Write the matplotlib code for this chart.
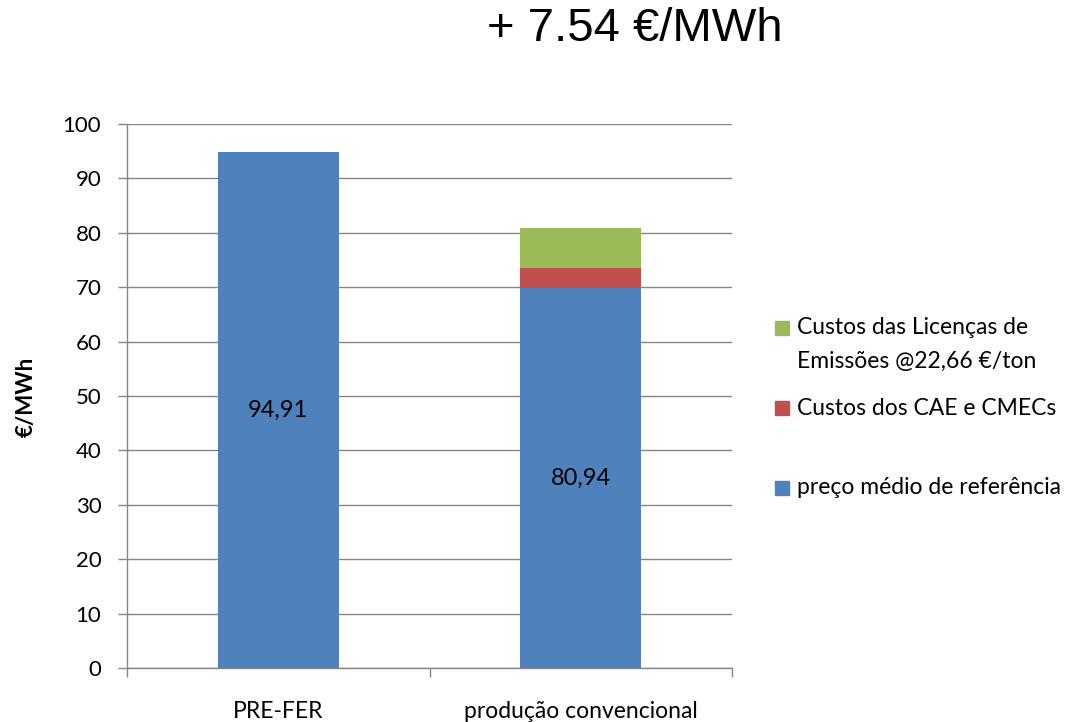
import matplotlib
matplotlib.use("Agg")
import matplotlib.pyplot as plt
from matplotlib.patches import Rectangle

categories = ["PRE-FER", "produção convencional"]
preco_medio = [94.91, 69.91]
custos_cae = [0.0, 3.60]
custos_licencas = [0.0, 7.43]
series_labels = ["preço médio de referência", "Custos dos CAE e CMECs",
                 "Custos das Licenças de\nEmissões @22,66 €/ton"]
colors = ["#4F81BD", "#C0504D", "#9BBB59"]
title_text = "+ 7.54 €/MWh"
y_label = "€/MWh"

plt.rcParams["font.family"] = ["Lato", "DejaVu Sans"]

W, H = 1083, 722
fig = plt.figure(figsize=(W / 100, H / 100), dpi=100)
ax = fig.add_axes([127 / W, 1 - 668 / H, (732 - 127) / W, (668 - 124) / H])

x = list(range(len(categories)))
w = 0.4
ax.bar(x, preco_medio, width=w, color=colors[0], zorder=3)
bottom2 = list(preco_medio)
ax.bar(x, custos_cae, width=w, bottom=bottom2, color=colors[1], zorder=3)
bottom3 = [a + b for a, b in zip(preco_medio, custos_cae)]
ax.bar(x, custos_licencas, width=w, bottom=bottom3, color=colors[2], zorder=3)

totals = [a + b + c for a, b, c in zip(preco_medio, custos_cae, custos_licencas)]
for xi, base, tot in zip(x, preco_medio, totals):
    ax.text(xi, base / 2, f"{tot:.2f}".replace(".", ","), ha="center", va="center",
            fontsize=17, color="black", zorder=4)

ax.set_xlim(-0.5, len(categories) - 0.5)
ax.set_ylim(0, 100)
ax.set_yticks(range(0, 101, 10))
ax.yaxis.grid(True, color="#868686", linewidth=1.0, zorder=0)
ax.set_axisbelow(True)

ax.set_xticks([-0.5, 0.5, 1.5])
ax.set_xticklabels([])
ax.set_xticks(x, minor=True)
ax.set_xticklabels(categories, minor=True, fontsize=16.5)
ax.tick_params(axis="x", which="minor", length=0, pad=24)
ax.tick_params(axis="x", which="major", length=6.5, color="#868686", width=1)
ax.tick_params(axis="y", length=6.5, color="#868686", width=1, labelsize=16, pad=12)

for s in ["top", "right"]:
    ax.spines[s].set_visible(False)
for s in ["left", "bottom"]:
    ax.spines[s].set_color("#868686")
    ax.spines[s].set_linewidth(1.0)

fig.text(26 / W, 1 - 397 / H, y_label, ha="center", va="center", rotation=90,
         fontsize=16, fontweight="bold")

fig.text(635 / W, 1 - 29 / H, title_text, ha="center", va="center",
         fontsize=34, family=["Liberation Sans", "DejaVu Sans"])

# Legend, top entry first; each line placed at its own height
legend_rows = [(series_labels[2], colors[2], 328), (series_labels[1], colors[1], 408),
               (series_labels[0], colors[0], 488)]
for label, col, ytop in legend_rows:
    fig.patches.append(Rectangle((775 / W, 1 - (ytop + 7) / H), 14 / W, 14 / H,
                                 transform=fig.transFigure, color=col))
    for i, line in enumerate(label.split("\n")):
        fig.text(797 / W, 1 - (ytop + 33 * i) / H, line, ha="left", va="center",
                 fontsize=16.5)

fig.savefig("out.png", dpi=100)
